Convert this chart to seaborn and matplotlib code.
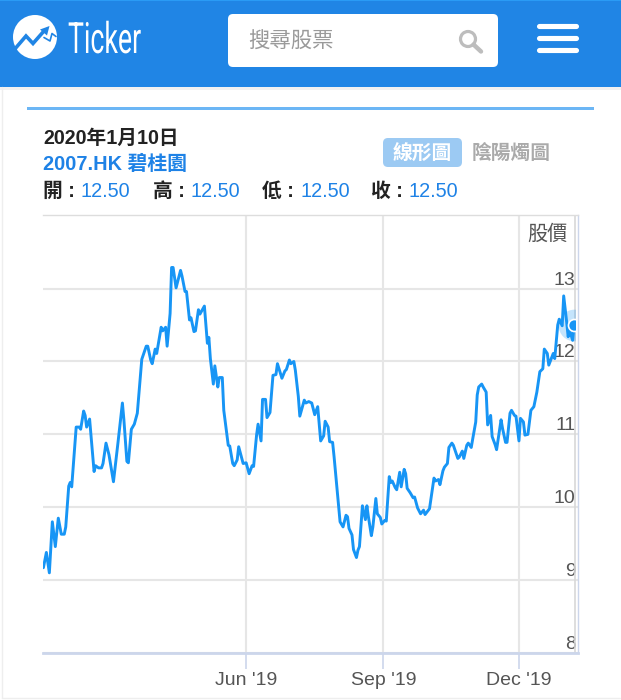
"""Ticker stock page for 2007.HK, line chart of one year of closing prices."""

import matplotlib.pyplot as plt
import matplotlib.patheffects as pe
import pandas as pd
import seaborn as sns
from matplotlib.patches import Circle, FancyBboxPatch, Polygon, Rectangle
from matplotlib.transforms import Affine2D, Bbox, TransformedBbox

START_DATE = "2019-01-15"

DAYS = [
    1, 3, 5, 7, 9, 11, 13, 15, 16, 18, 19, 20, 23, 25, 26, 28, 29, 30, 32, 35,
    36, 38, 40, 41, 43, 45, 48, 51, 54, 55, 57, 58, 60, 62, 64, 67, 70, 71, 73, 74,
    76, 77, 80, 81, 83, 84, 86, 87, 88, 90, 93, 94, 96, 97, 99, 100, 102, 103, 105, 106,
    109, 111, 112, 113, 115, 116, 118, 119, 121, 122, 125, 126, 128, 129, 131, 132, 135, 137, 139, 141,
    142, 144, 145, 147, 148, 150, 151, 153, 155, 157, 158, 160, 161, 163, 164, 166, 167, 169, 170, 172,
    173, 175, 176, 177, 179, 181, 183, 185, 187, 189, 190, 192, 193, 195, 196, 200, 202, 204, 205, 206,
    208, 209, 211, 212, 213, 215, 217, 218, 219, 221, 222, 224, 225, 227, 228, 230, 231, 233, 234, 235,
    237, 238, 240, 241, 243, 244, 245, 247, 249, 250, 252, 254, 256, 257, 260, 261, 263, 264, 266, 267,
    269, 270, 272, 273, 275, 276, 279, 280, 282, 283, 285, 286, 288, 289, 291, 292, 293, 295, 296, 298,
    299, 301, 302, 304, 305, 308, 309, 311, 312, 314, 315, 317, 318, 320, 321, 323, 324, 326, 328, 330,
    332, 334, 336, 337, 339, 340, 343, 344, 346, 347, 349, 350, 352, 353, 354, 356, 357,
]
PRICES = [
    9.17, 9.38, 9.10, 9.80, 9.46, 9.85, 9.63, 9.63, 9.73, 10.29, 10.34, 10.28, 11.10, 11.10, 11.07, 11.32, 11.26, 11.10, 11.21, 10.49,
    10.57, 10.54, 10.54, 10.60, 10.88, 10.72, 10.35, 10.88, 11.43, 11.20, 10.63, 10.61, 11.07, 11.14, 11.29, 12.03, 12.21, 12.21, 12.02, 11.97,
    12.17, 12.11, 12.47, 12.42, 12.47, 12.21, 12.66, 13.29, 13.29, 13.01, 13.25, 13.17, 12.96, 12.96, 12.57, 12.60, 12.41, 12.42, 12.71, 12.65,
    12.76, 12.25, 12.33, 12.04, 11.69, 11.94, 11.65, 11.78, 11.78, 11.33, 10.85, 10.84, 10.60, 10.57, 10.65, 10.83, 10.60, 10.61, 10.46, 10.57,
    10.56, 10.99, 11.14, 10.91, 11.48, 11.48, 11.23, 11.30, 11.81, 11.82, 11.97, 11.84, 11.77, 11.87, 11.89, 12.02, 11.97, 12.00, 11.88, 11.52,
    11.25, 11.40, 11.47, 11.43, 11.45, 11.43, 11.27, 11.38, 10.91, 10.98, 11.18, 11.10, 10.90, 10.89, 10.69, 9.80, 9.73, 9.89, 9.87, 9.71,
    9.62, 9.42, 9.31, 9.41, 9.46, 10.02, 9.83, 10.02, 9.87, 9.61, 9.73, 10.12, 9.91, 9.86, 9.77, 9.82, 9.81, 10.42, 10.34, 10.36,
    10.27, 10.24, 10.48, 10.28, 10.52, 10.46, 10.26, 10.20, 10.13, 10.14, 9.99, 9.91, 9.96, 9.90, 9.98, 10.12, 10.40, 10.36, 10.38, 10.31,
    10.50, 10.55, 10.60, 10.82, 10.88, 10.85, 10.67, 10.69, 10.77, 10.67, 10.85, 10.88, 10.82, 10.94, 11.17, 11.54, 11.65, 11.69, 11.65, 11.58,
    11.13, 11.26, 10.97, 10.86, 10.79, 11.20, 11.08, 10.89, 10.89, 11.29, 11.33, 11.26, 11.25, 10.91, 11.22, 11.17, 10.99, 11.00, 11.33, 11.38,
    11.58, 11.86, 11.90, 12.17, 12.11, 11.95, 12.11, 12.04, 12.50, 12.58, 12.49, 12.90, 12.54, 12.34, 12.43, 12.29, 12.50,
]
Y_TICKS = [8, 9, 10, 11, 12, 13]
X_TICK_DATES = ["2019-06-01", "2019-09-01", "2019-12-01"]
X_TICK_LABELS = ["Jun '19", "Sep '19", "Dec '19"]
OHLC_NAMES = ["開 :", "高 :", "低 :", "收 :"]
OHLC_VALUES = ["12.50", "12.50", "12.50", "12.50"]

W, H = 621, 700
BAR_BLUE = "#2085e5"
LINE_BLUE = "#1795f5"
TEXT_BLUE = "#1e82e6"
GRID = "#e6e6e6"
AXIS = "#ccd6eb"

sns.set_theme(style="white")
plt.rcParams["font.family"] = ["Liberation Sans", "Noto Sans CJK TC", "DejaVu Sans"]


class SqueezeX(pe.AbstractPathEffect):
    """Narrow a text horizontally around its anchor, for the logo lettering."""

    def __init__(self, sx):
        super().__init__()
        self.sx = sx

    def draw_path(self, renderer, gc, tpath, affine, rgbFace=None):
        renderer.draw_path(gc, tpath, Affine2D().scale(self.sx, 1) + affine, rgbFace)


def draw_chrome(ax):
    """Page header, search box, logo and quote text, in pixel coordinates."""
    ax.add_patch(Rectangle((0, 0), W, 87, color=BAR_BLUE, lw=0))
    ax.add_patch(Rectangle((0, 87), W, 3, color="#f1f1f1", lw=0))
    ax.add_patch(Rectangle((0, 0), W, 1, color="#2a9bf5", lw=0))
    ax.plot([1.5, 1.5], [87, 698], color="#eeeeee", lw=1)
    ax.plot([1.5, 620], [698, 698], color="#eeeeee", lw=1)

    # logo
    ax.add_patch(Circle((35, 37), 22, color="white", lw=0))
    ax.plot([14, 26, 33, 44], [50, 36, 43.5, 31], color=BAR_BLUE, lw=2.6, solid_joinstyle="miter")
    ax.add_patch(Polygon([(40, 29.5), (49.5, 26), (47, 35.5)], color=BAR_BLUE, lw=0))
    ax.plot([44, 50, 52, 56], [37.5, 41, 33.5, 36.5], color=BAR_BLUE, lw=1.2)
    ax.text(68, 53, "Ticker", color="white", fontsize=31, family="Roboto", weight="normal",
            va="baseline", path_effects=[SqueezeX(0.62)])

    # search box
    ax.add_patch(FancyBboxPatch((232, 18), 262, 45, boxstyle="round,pad=4,rounding_size=5",
                                fc="white", ec="none"))
    ax.text(248, 41.5, "搜尋股票", color="#9a9a9a", fontsize=15.4, va="center")
    ax.add_patch(Circle((468, 39), 7.5, fc="none", ec="#bdbdbd", lw=2.3))
    ax.plot([473.5, 481], [44.5, 51.5], color="#bdbdbd", lw=3.2, solid_capstyle="round")

    # hamburger
    for y in [25.5, 37.5, 49.5]:
        ax.plot([538.5, 575.5], [y, y], color="white", lw=3.7, solid_capstyle="round")

    ax.add_patch(Rectangle((27, 107), 567, 3, color="#6cb6f5", lw=0))

    ax.text(43, 138.5, "2020年1月10日", color="#222222", fontsize=14.2, weight="bold", va="center")
    ax.text(43, 164.5, "2007.HK 碧桂園", color=TEXT_BLUE, fontsize=14.3, weight="bold", va="center")
    for name, value, x_name, x_value in zip(OHLC_NAMES, OHLC_VALUES, [43, 153, 262, 371], [81, 190, 300, 409]):
        ax.text(x_name, 191.5, name, color="#222222", fontsize=14.2, weight="bold", va="center")
        ax.text(x_value, 191.5, value, color=TEXT_BLUE, fontsize=14.3, va="center")

    ax.add_patch(FancyBboxPatch((387, 142), 71, 21, boxstyle="round,pad=4,rounding_size=5",
                                fc="#9ccaf3", ec="none"))
    ax.text(422.5, 154, "線形圖", color="white", fontsize=14.2, weight="bold", ha="center", va="center")
    ax.text(511.5, 154, "陰陽燭圖", color="#aaaaaa", fontsize=14.2, weight="bold", ha="center", va="center")


def draw_price_chart(ax, df):
    """Price line with the last close marked, y labels inside the right edge."""
    start = pd.Timestamp(START_DATE)
    ax.set_xlim(start + pd.Timedelta(days=0.74), start + pd.Timedelta(days=359.6))
    ax.set_ylim(8, 14.01)

    sns.lineplot(data=df, x="date", y="price", ax=ax, color=LINE_BLUE, lw=2.1, zorder=3)

    ax.set_xticks(pd.to_datetime(X_TICK_DATES))
    ax.set_xticklabels(X_TICK_LABELS)
    ax.set_yticks(Y_TICKS)
    ax.set_yticklabels([str(t) for t in Y_TICKS])
    ax.set_xlabel("")
    ax.set_ylabel("")

    ax.grid(True, color=GRID, lw=1.5)
    ax.set_axisbelow(True)
    ax.yaxis.tick_right()
    ax.tick_params(axis="x", length=11.5, width=1.2, color=AXIS, labelcolor="#555555",
                   labelsize=14, pad=2.5, bottom=True)
    ax.tick_params(axis="y", length=0, labelcolor="#555555", labelsize=14, pad=-1.7)
    for label in ax.get_yticklabels():
        label.set_ha("right")
        label.set_va("bottom")

    ax.spines["left"].set_visible(False)
    ax.spines["top"].set_color("#dddddd")
    ax.spines["top"].set_linewidth(1)
    ax.spines["bottom"].set_color(AXIS)
    ax.spines["bottom"].set_linewidth(2)
    ax.spines["right"].set_color(AXIS)
    ax.spines["right"].set_linewidth(1)
    ax.plot([0.9953, 0.9953], [0, 1], transform=ax.transAxes, color="#d8d8d8", lw=1.2, zorder=2)

    ax.text(0.9813, 0.9555, "股價", transform=ax.transAxes, color="#555555", fontsize=14.5,
            ha="right", va="center")

    # last close: halo and dot, cut off by the inner line
    last = df.iloc[-1]
    clip = TransformedBbox(Bbox([[0, 0], [0.9953, 1]]), ax.transAxes)
    halo = ax.scatter(last["date"], last["price"], s=520, color=LINE_BLUE, alpha=0.25, lw=0, zorder=4)
    dot = ax.scatter(last["date"], last["price"], s=75, color=LINE_BLUE, edgecolor="white", lw=1.2, zorder=5)
    halo.set_clip_box(clip)
    dot.set_clip_box(clip)


def main():
    dates = pd.Timestamp(START_DATE) + pd.to_timedelta(DAYS, unit="D")
    df = pd.DataFrame({"date": dates, "price": PRICES})

    fig = plt.figure(figsize=(W / 100, H / 100), dpi=100, facecolor="white")

    chrome = fig.add_axes([0, 0, 1, 1])
    chrome.set_xlim(0, W)
    chrome.set_ylim(H, 0)
    chrome.axis("off")
    draw_chrome(chrome)

    left, right, top, bottom = 43, 578, 215, 653
    chart = fig.add_axes([left / W, 1 - bottom / H, (right - left) / W, (bottom - top) / H])
    chart.patch.set_alpha(0)
    draw_price_chart(chart, df)

    fig.savefig("out.png", dpi=100)
    plt.close(fig)


if __name__ == "__main__":
    main()
